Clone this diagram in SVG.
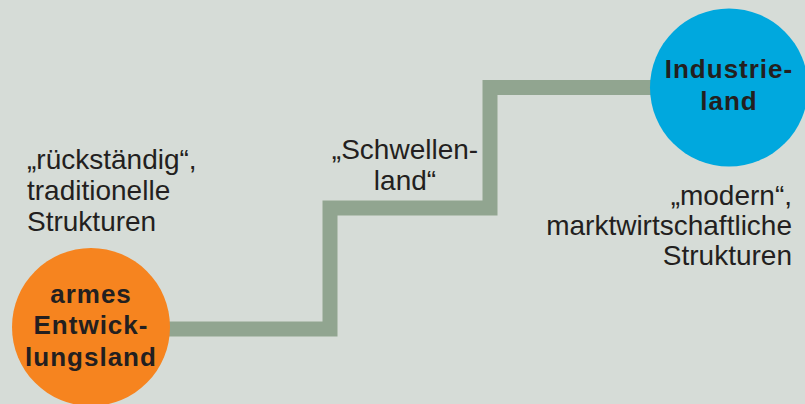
<svg xmlns="http://www.w3.org/2000/svg" width="805" height="404" viewBox="0 0 805 404">
<style>
.t{font-family:"Liberation Sans",Arial,sans-serif;font-size:28px;fill:#231f20}
.b{font-family:"Liberation Sans",Arial,sans-serif;font-size:26px;font-weight:bold;fill:#231f20;letter-spacing:1px;text-anchor:middle}
.stair{fill:none;stroke:#91a590;stroke-width:15;stroke-linejoin:miter}
</style>
<rect width="805" height="404" fill="#d6dcd7"/>
<g id="connectors">
<path class="stair" d="M160 329 H330 V208 H490 V87.5 H665"/>
</g>
<g id="entwicklungsland">
<circle cx="91" cy="327" r="79" fill="#f6841f"/>
<text class="b" x="91" y="303">armes</text>
<text class="b" x="91" y="334">Entwick-</text>
<text class="b" x="91" y="366">lungsland</text>
</g>
<g id="industrieland">
<circle cx="729" cy="87.5" r="79" fill="#00a8de"/>
<text class="b" x="729" y="78">Industrie-</text>
<text class="b" x="729" y="110">land</text>
</g>
<g id="label-left">
<text class="t" x="27" y="169">„rückständig“,</text>
<text class="t" x="27" y="200">traditionelle</text>
<text class="t" x="27" y="231">Strukturen</text>
</g>
<g id="label-schwellenland">
<text class="t" x="405" y="159" text-anchor="middle">„Schwellen-</text>
<text class="t" x="405" y="190" text-anchor="middle">land“</text>
</g>
<g id="label-right">
<text class="t" x="792" y="205" text-anchor="end">„modern“,</text>
<text class="t" x="792" y="235" text-anchor="end">marktwirtschaftliche</text>
<text class="t" x="792" y="265" text-anchor="end">Strukturen</text>
</g>
</svg>
